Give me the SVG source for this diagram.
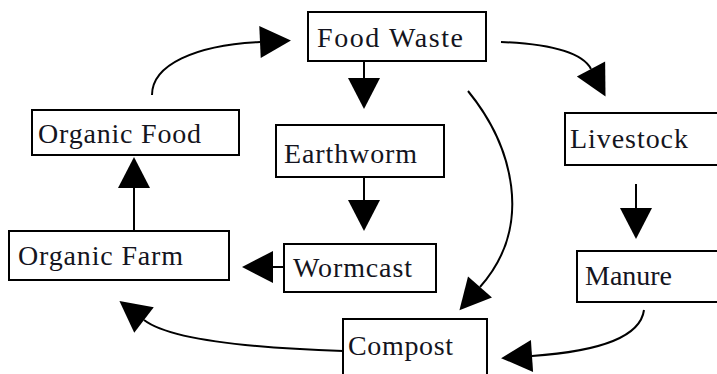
<svg xmlns="http://www.w3.org/2000/svg" width="717" height="374" viewBox="0 0 717 374">
<style>
.box{fill:#fff;stroke:#000;stroke-width:2}
.lbl{font-family:"Liberation Serif","Times New Roman",serif;font-size:28px;fill:#141420}
.con{fill:none;stroke:#000;stroke-width:2}
</style>
<defs>
<marker id="ah" markerUnits="userSpaceOnUse" markerWidth="31" markerHeight="32" viewBox="0 0 31 32" refX="0" refY="16" orient="auto" overflow="visible">
<path d="M0,0 L31,16 L0,32 z" fill="#000"/>
</marker>
</defs>
<rect width="717" height="374" fill="#fff"/>
<g id="connectors">
<path class="con" d="M152,95 C152,65 195,45 260,42" marker-end="url(#ah)"/>
<path class="con" d="M364,62 L364,78" marker-end="url(#ah)"/>
<path class="con" d="M501,42 C550,44 582,52 591,69" marker-end="url(#ah)"/>
<path class="con" d="M468,91 C512,145 535,225 480,287" marker-end="url(#ah)"/>
<path class="con" d="M364,177 L364,200" marker-end="url(#ah)"/>
<path class="con" d="M284,267 L273,267" marker-end="url(#ah)"/>
<path class="con" d="M134,231 L134,188" marker-end="url(#ah)"/>
<path class="con" d="M636,184 L636,208" marker-end="url(#ah)"/>
<path class="con" d="M644,310 C640,340 590,352 532,356" marker-end="url(#ah)"/>
<path class="con" d="M343,351 C250,348 170,340 144,320" marker-end="url(#ah)"/>
</g>
<g id="food-waste"><rect class="box" x="308" y="12" width="178" height="49"/><text class="lbl" x="317" y="47" textLength="146" lengthAdjust="spacing">Food Waste</text></g>
<g id="organic-food"><rect class="box" x="32" y="110" width="207" height="45"/><text class="lbl" x="38" y="143" textLength="163" lengthAdjust="spacing">Organic Food</text></g>
<g id="earthworm"><rect class="box" x="276" y="125" width="168" height="52"/><text class="lbl" x="284" y="163" textLength="133" lengthAdjust="spacing">Earthworm</text></g>
<g id="livestock"><rect class="box" x="565" y="113" width="160" height="52"/><text class="lbl" x="570" y="148" textLength="118" lengthAdjust="spacing">Livestock</text></g>
<g id="organic-farm"><rect class="box" x="9" y="231" width="220" height="49"/><text class="lbl" x="18" y="265" textLength="165" lengthAdjust="spacing">Organic Farm</text></g>
<g id="wormcast"><rect class="box" x="284" y="244" width="152" height="48"/><text class="lbl" x="293" y="277" textLength="119" lengthAdjust="spacing">Wormcast</text></g>
<g id="manure"><rect class="box" x="577" y="251" width="150" height="51"/><text class="lbl" x="585" y="285" textLength="87" lengthAdjust="spacing">Manure</text></g>
<g id="compost"><rect class="box" x="343" y="319" width="144" height="70"/><text class="lbl" x="348" y="355" textLength="105" lengthAdjust="spacing">Compost</text></g>
</svg>
